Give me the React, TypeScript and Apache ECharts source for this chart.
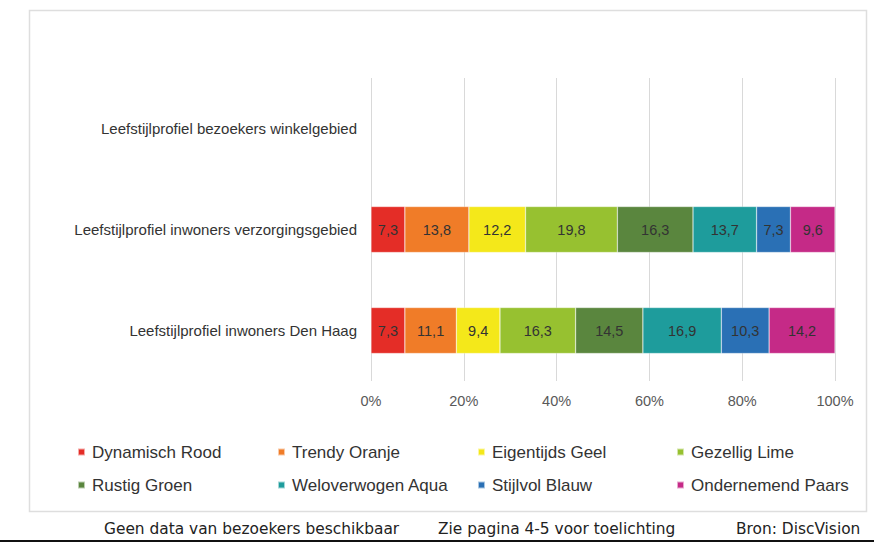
import React, { useEffect, useRef } from "react";
import * as echarts from "echarts";

const categories = [
  "Leefstijlprofiel bezoekers winkelgebied",
  "Leefstijlprofiel inwoners verzorgingsgebied",
  "Leefstijlprofiel inwoners Den Haag",
];

const seriesNames = [
  "Dynamisch Rood",
  "Trendy Oranje",
  "Eigentijds Geel",
  "Gezellig Lime",
  "Rustig Groen",
  "Weloverwogen Aqua",
  "Stijlvol Blauw",
  "Ondernemend Paars",
];

const seriesColors = [
  "#E42D27",
  "#F07C28",
  "#F4E81A",
  "#97C130",
  "#5A863E",
  "#1E9C9C",
  "#2A70B5",
  "#C52A87",
];

const dynamischRood = [null, 7.3, 7.3];
const trendyOranje = [null, 13.8, 11.1];
const eigentijdsGeel = [null, 12.2, 9.4];
const gezelligLime = [null, 19.8, 16.3];
const rustigGroen = [null, 16.3, 14.5];
const weloverwogenAqua = [null, 13.7, 16.9];
const stijlvolBlauw = [null, 7.3, 10.3];
const ondernemendPaars = [null, 9.6, 14.2];

const seriesValues = [
  dynamischRood,
  trendyOranje,
  eigentijdsGeel,
  gezelligLime,
  rustigGroen,
  weloverwogenAqua,
  stijlvolBlauw,
  ondernemendPaars,
];

const footerTexts = [
  "Geen data van bezoekers beschikbaar",
  "Zie pagina 4-5 voor toelichting",
  "Bron: DiscVision",
];

const legendColumns = [
  [seriesNames[0], seriesNames[4]],
  [seriesNames[1], seriesNames[5]],
  [seriesNames[2], seriesNames[6]],
  [seriesNames[3], seriesNames[7]],
];

export default function App() {
  const ref = useRef<HTMLDivElement>(null);

  useEffect(() => {
    if (!ref.current) return;
    const chart = echarts.init(ref.current, null, { renderer: "svg" });
    const legendLefts = [77, 277, 477, 676];
    const footerLefts = [104, 438, 736];

    const option = {
      animation: false,
      backgroundColor: "#ffffff",
      grid: { left: 371, right: 39, top: 78, bottom: 161, containLabel: false },
      xAxis: {
        type: "value",
        min: 0,
        max: 100,
        interval: 20,
        axisLine: { show: false },
        axisTick: { show: false },
        splitLine: { show: true, lineStyle: { color: "#d9d9d9", width: 1 } },
        axisLabel: {
          formatter: (v: number) => v + "%",
          color: "#595959",
          fontSize: 14.5,
          fontFamily: "Liberation Sans, Arial, sans-serif",
          margin: 12,
        },
      },
      yAxis: {
        type: "category",
        data: categories,
        inverse: true,
        axisLine: { show: false },
        axisTick: { show: false },
        splitLine: { show: false },
        axisLabel: {
          color: "#333333",
          fontSize: 15,
          fontFamily: "Liberation Sans, Arial, sans-serif",
          margin: 14,
        },
      },
      legend: legendColumns.map((col, i) => ({
        data: col,
        orient: "vertical",
        left: legendLefts[i],
        top: 442,
        padding: 0,
        itemWidth: 7,
        itemHeight: 7,
        itemGap: 13,
        icon: "rect",
        selectedMode: false,
        textStyle: {
          color: "#333333",
          fontSize: 17,
          lineHeight: 20,
          fontFamily: "Liberation Sans, Arial, sans-serif",
          padding: [0, 0, 0, 2],
        },
      })),
      series: seriesNames.map((name, i) => ({
        name,
        type: "bar",
        stack: "total",
        barWidth: 46,
        data: seriesValues[i],
        itemStyle: {
          color: seriesColors[i],
          borderColor: "rgba(255,255,255,0.6)",
          borderWidth: 0.5,
        },
        label: {
          show: true,
          position: "inside",
          color: "#333333",
          fontSize: 14.5,
          fontFamily: "Liberation Sans, Arial, sans-serif",
          formatter: (p: any) =>
            p.value == null ? "" : Number(p.value).toFixed(1).replace(".", ","),
        },
      })),
      graphic: [
        {
          type: "rect",
          shape: { x: 29.5, y: 10.5, width: 837, height: 501 },
          style: { fill: "none", stroke: "#dedede", lineWidth: 1.5 },
          silent: true,
          z: 0,
        },
        {
          type: "rect",
          shape: { x: 0, y: 540, width: 874, height: 2 },
          style: { fill: "#111111" },
          silent: true,
        },
        ...footerTexts.map((t, i) => ({
          type: "text",
          left: footerLefts[i],
          top: 521,
          style: {
            text: t,
            fill: "#222222",
            fontSize: 15.4,
            fontFamily: "DejaVu Sans, Verdana, sans-serif",
          },
          silent: true,
        })),
      ],
    };

    chart.setOption(option as any);
    return () => chart.dispose();
  }, []);

  return (
    <div
      ref={ref}
      style={{ position: "fixed", left: 0, top: 0, width: 874, height: 542 }}
    />
  );
}
